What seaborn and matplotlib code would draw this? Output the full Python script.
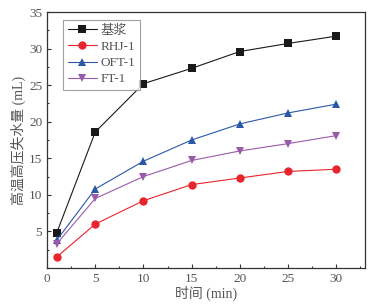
import matplotlib
matplotlib.use('Agg')
import matplotlib.pyplot as plt
import numpy as np
import pandas as pd
import seaborn as sns
from matplotlib.ticker import MultipleLocator

# data
time = [1, 5, 10, 15, 20, 25, 30]
base = [4.8, 18.6, 25.2, 27.3, 29.6, 30.7, 31.7]
rhj1 = [1.5, 6.0, 9.2, 11.4, 12.3, 13.2, 13.5]
oft1 = [3.8, 10.8, 14.6, 17.5, 19.7, 21.2, 22.4]
ft1 = [3.3, 9.5, 12.5, 14.7, 16.0, 17.0, 18.1]
names = ['基浆', 'RHJ-1', 'OFT-1', 'FT-1']

temp = []
for name, vals in zip(names, [base, rhj1, oft1, ft1]):
  temp.append(pd.DataFrame({'time': time, 'loss': vals, 'sample': name}))
df = pd.concat(temp, ignore_index=True)

sns.set_style('ticks')
plt.rcParams['font.family'] = ['Liberation Serif', 'Noto Sans CJK SC']
plt.rcParams['xtick.direction'] = 'in'
plt.rcParams['ytick.direction'] = 'in'

palette = {'基浆': '#1a1a1a', 'RHJ-1': '#e8242c', 'OFT-1': '#2b58a6', 'FT-1': '#9a5aaa'}
markers = {'基浆': 's', 'RHJ-1': 'o', 'OFT-1': '^', 'FT-1': 'v'}

fig = plt.figure(figsize=(3.86, 3.08), dpi=100)
ax = fig.add_axes([0.122, 0.130, 0.824, 0.831])

sns.lineplot(data=df, x='time', y='loss', hue='sample', style='sample',
             palette=palette, markers=markers, dashes=False, markersize=6,
             markeredgewidth=0, linewidth=0.8, ax=ax)

ax.set_xlim(0, 33)
ax.set_ylim(0, 35)
ax.set_xticks([0, 5, 10, 15, 20, 25, 30])
ax.set_yticks([5, 10, 15, 20, 25, 30, 35])
ax.xaxis.set_minor_locator(MultipleLocator(2.5))
ax.yaxis.set_minor_locator(MultipleLocator(2.5))
ax.tick_params(which='major', length=3, width=0.8, labelsize=9.5, colors='#333333', labelcolor='#555555')
ax.tick_params(which='minor', length=1.5, width=0.8, colors='#333333')
for s in ax.spines.values():
  s.set_linewidth(0.9)
  s.set_color('#333333')

ax.set_xlabel('时间 (min)', fontsize=10, color='#555555', labelpad=1)
ax.set_ylabel('高温高压失水量 (mL)', fontsize=10, color='#555555', labelpad=2)

leg = ax.legend(loc='upper left', bbox_to_anchor=(0.03, 0.995), fontsize=9.5,
                frameon=True, fancybox=False, handlelength=2.2, labelspacing=0.3,
                borderpad=0.35, handletextpad=0.3)
leg.get_frame().set_edgecolor('#888888')
leg.get_frame().set_linewidth(0.8)
for t in leg.get_texts():
  t.set_color('#555555')

fig.savefig('out.png', dpi=100)
